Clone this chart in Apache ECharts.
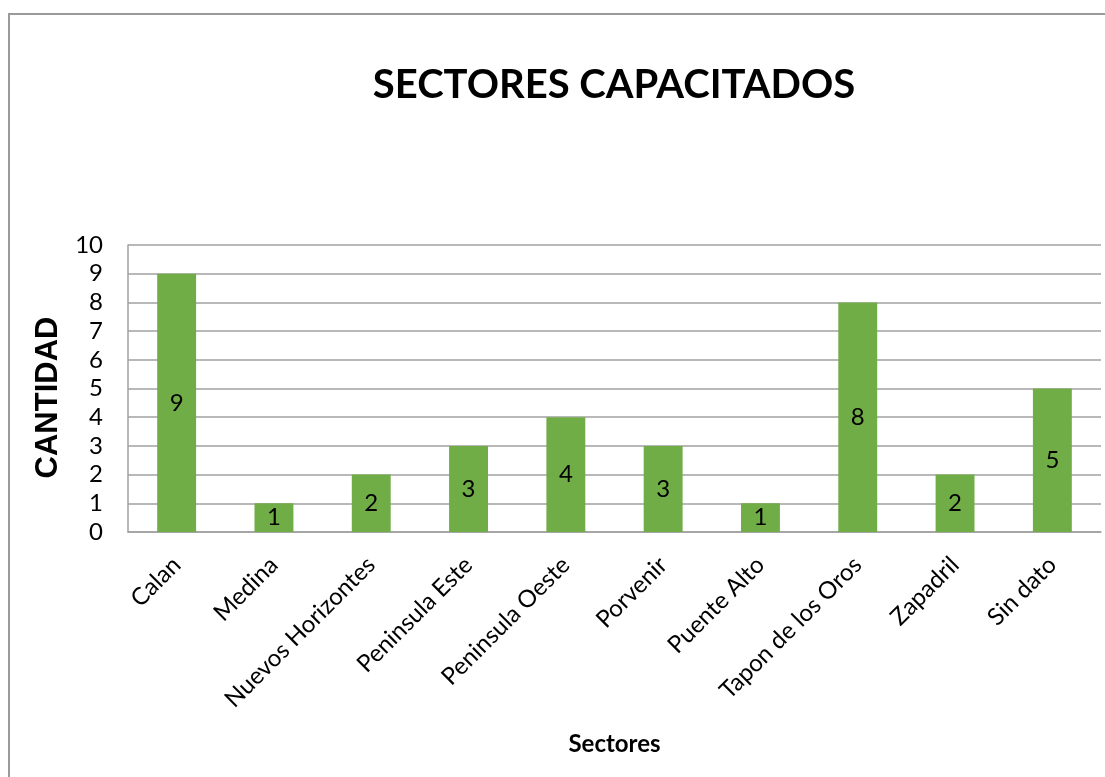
<!DOCTYPE html>
<html>
<head>
<meta charset="utf-8">
<script src="https://cdn.jsdelivr.net/npm/echarts@6/dist/echarts.min.js"></script>
<style>
html,body{margin:0;padding:0;background:#fff;overflow:hidden;}
#frame{position:absolute;left:8px;top:13px;width:1200px;height:900px;border-left:2px solid #9a9a9a;border-top:2px solid #9a9a9a;box-sizing:border-box;}
#chart{position:absolute;left:0;top:0;width:1105px;height:777px;}
</style>
</head>
<body>
<div id="frame"></div>
<div id="chart"></div>
<script>
const categories = ["Calan","Medina","Nuevos Horizontes","Peninsula Este","Peninsula Oeste","Porvenir","Puente Alto","Tapon de los Oros","Zapadril","Sin dato"];
const values = [9,1,2,3,4,3,1,8,2,5];
const yTicks = [0,1,2,3,4,5,6,7,8,9,10];

const font = "Lato, 'Open Sans', sans-serif";
const chart = echarts.init(document.getElementById('chart'));
chart.setOption({
  animation:false,
  backgroundColor:'transparent',
  title:{
    text:'SECTORES CAPACITADOS',
    left:609, top:60, textAlign:'center',
    textStyle:{fontFamily:font,fontWeight:'bold',fontSize:40,color:'#000'}
  },
  grid:{left:128,right:4,top:245,bottom:245},
  xAxis:{
    type:'category',
    data:categories,
    name:'Sectores',
    nameLocation:'middle',
    nameGap:200,
    nameTextStyle:{fontFamily:font,fontWeight:'bold',fontSize:24,color:'#000'},
    axisLine:{lineStyle:{color:'#a0a0a0',width:1.5}},
    axisTick:{show:false},
    axisLabel:{rotate:45,interval:0,fontFamily:font,fontSize:24,color:'#000',margin:29}
  },
  yAxis:{
    type:'value',
    min:0,max:10,interval:1,
    name:'CANTIDAD',
    nameLocation:'middle',
    nameGap:64,
    nameTextStyle:{fontFamily:"'Liberation Sans', Arial, sans-serif",fontWeight:'bold',fontSize:31,color:'#000',padding:[0,18,0,0]},
    axisLine:{show:true,lineStyle:{color:'#a0a0a0',width:1.5}},
    axisTick:{show:false},
    splitLine:{lineStyle:{color:'#a0a0a0',width:1.5}},
    axisLabel:{fontFamily:font,fontSize:24,color:'#000',margin:25,
      formatter:v=>yTicks.includes(v)?String(v):''}
  },
  series:[{
    type:'bar',
    data:values,
    barWidth:'40%',
    itemStyle:{color:'#70AD47'},
    label:{show:true,position:'inside',fontFamily:font,fontSize:24,color:'#000'}
  }]
});
</script>
</body>
</html>
